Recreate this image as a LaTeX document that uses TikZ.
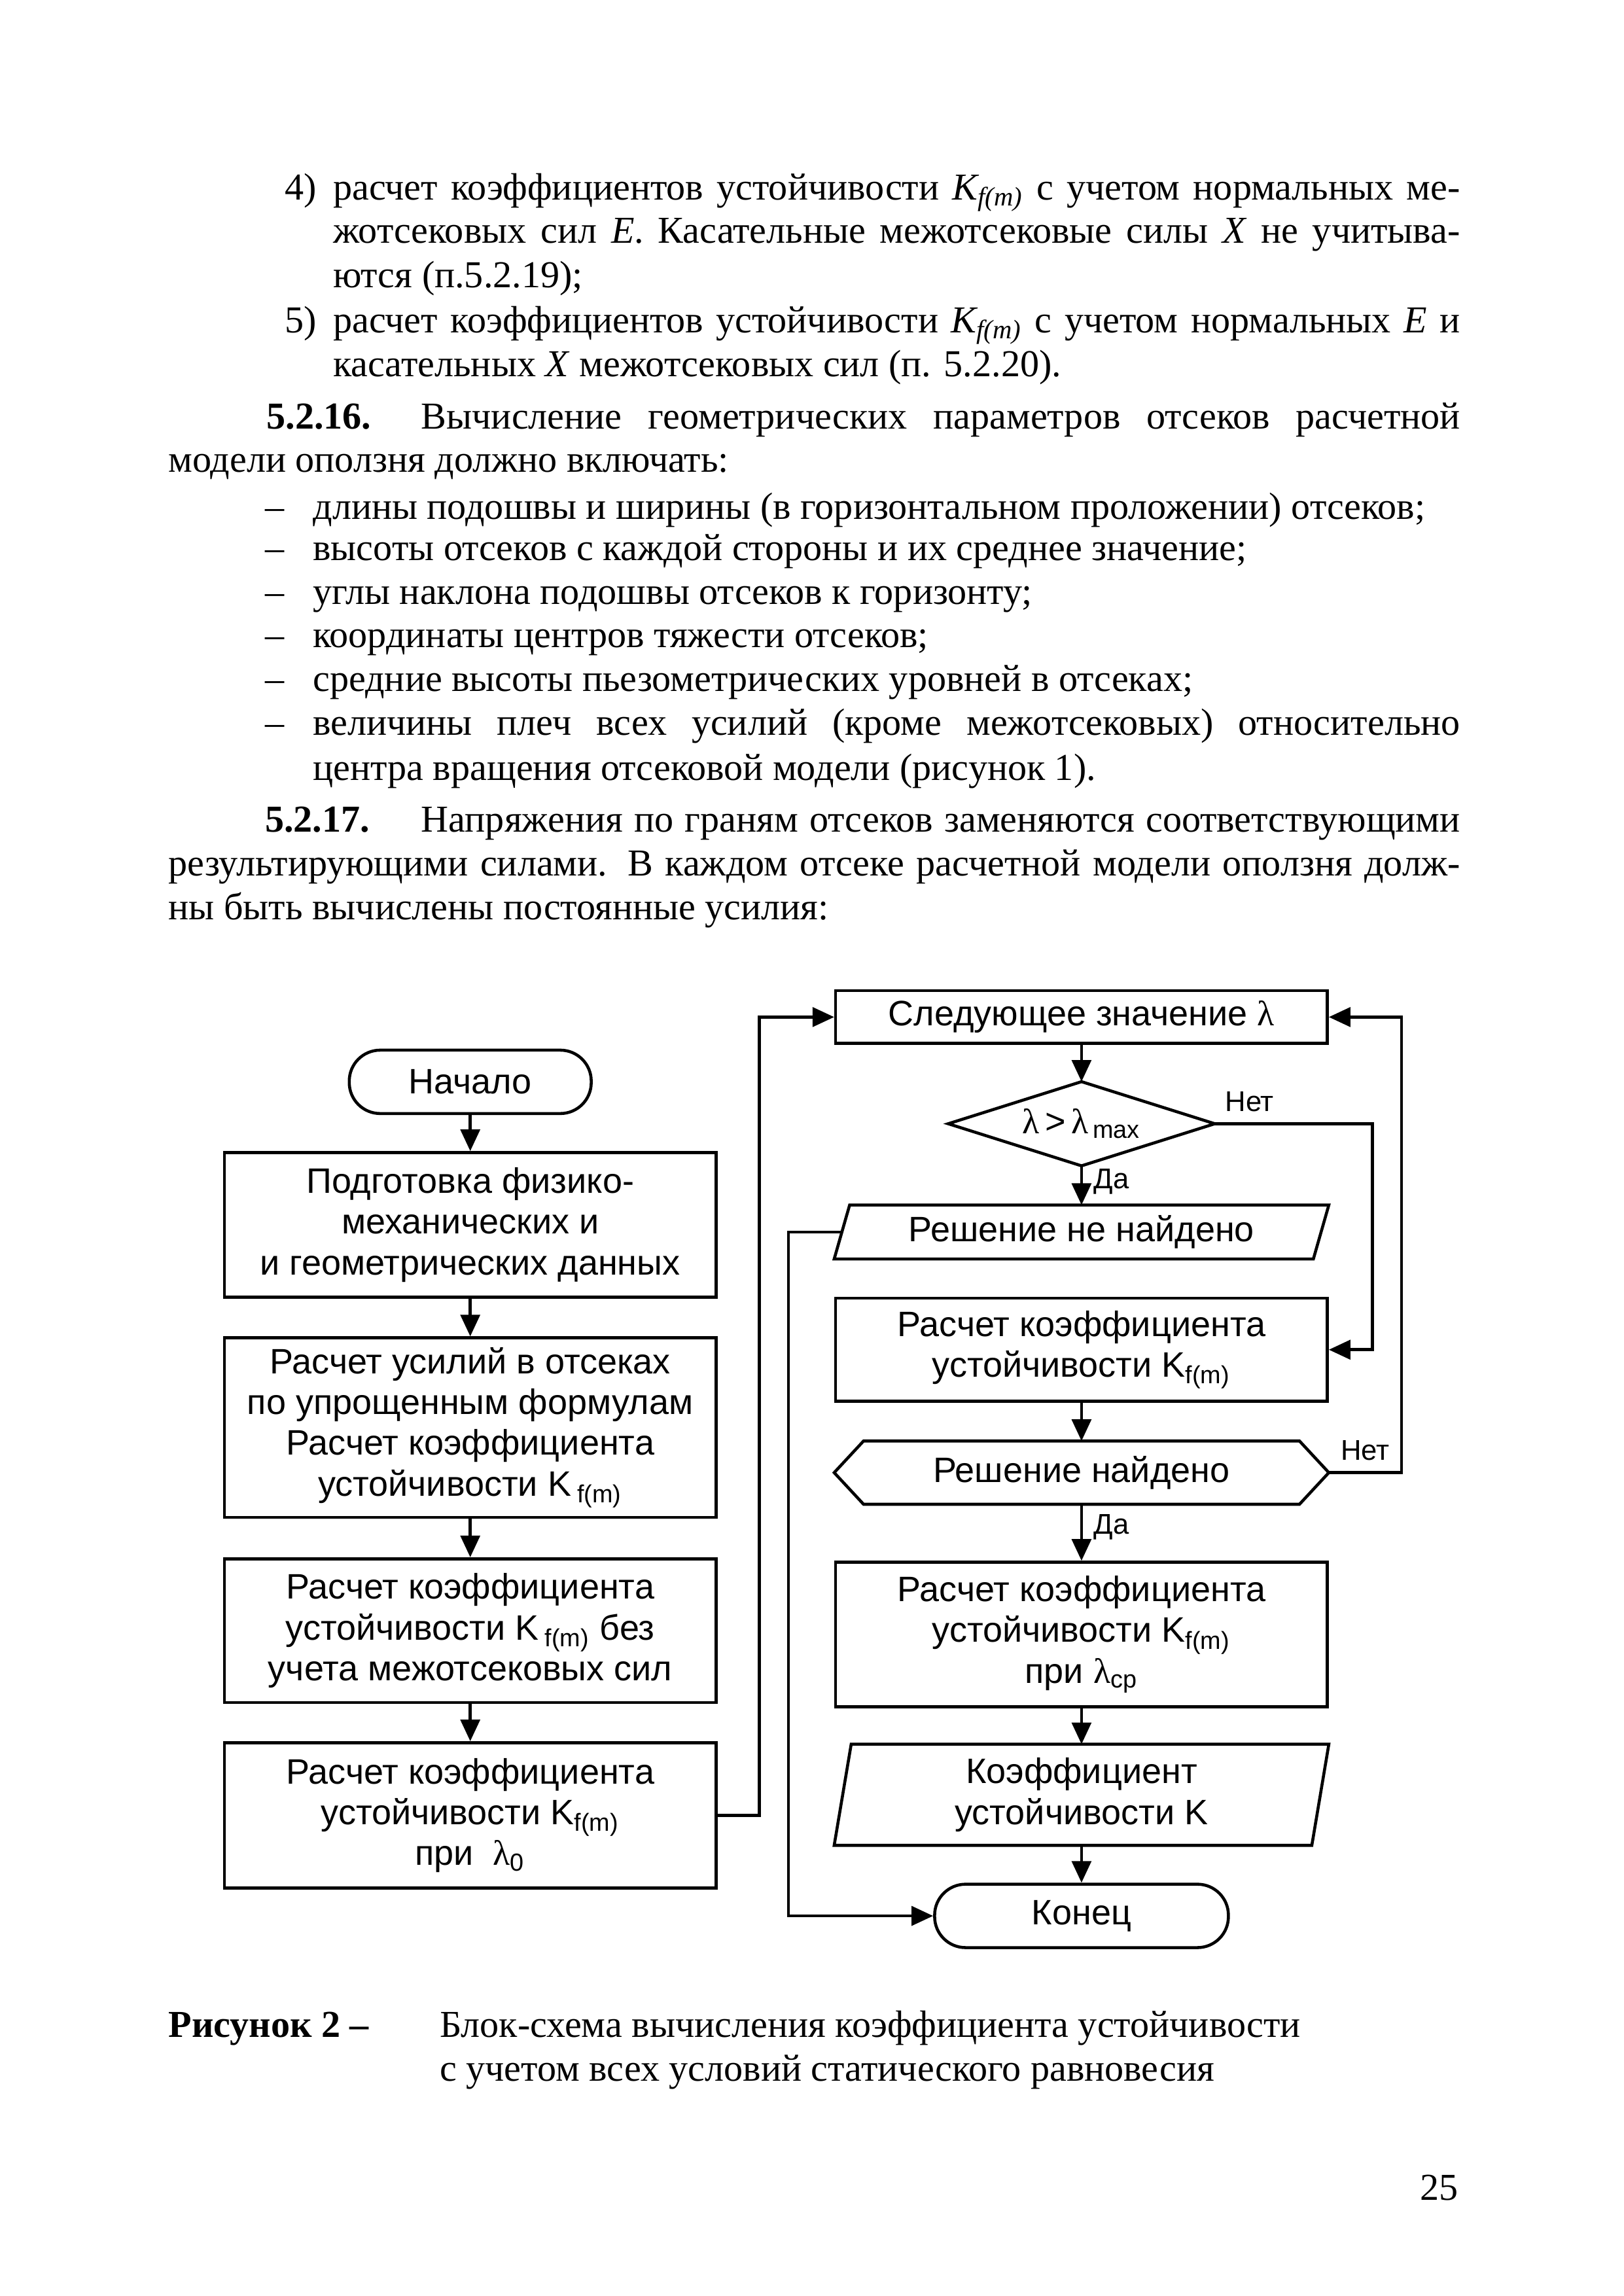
\documentclass[tikz,border=0pt]{standalone}
\usepackage{fontspec}
\setmainfont{Liberation Serif}
\newfontfamily\flowfont{Liberation Sans}
\newfontfamily\lamfont{Liberation Serif}
\newcommand{\lam}{{\lamfont λ}}
\usetikzlibrary{arrows.meta}

\begin{document}
\begin{tikzpicture}[line width=1.1pt,
  txt/.style={anchor=base west, inner sep=0pt, font=\fontsize{14}{16}\selectfont},
  box/.style={rectangle, draw, minimum width=6.36cm, align=center, inner sep=0pt, font=\flowfont\fontsize{13}{15}\selectfont},
  frameless/.style={rectangle, minimum width=6.36cm, align=center, inner sep=0pt, font=\flowfont\fontsize{13}{15}\selectfont},
  term/.style={rectangle, draw, rounded corners=0.4cm, minimum height=0.82cm, font=\flowfont\fontsize{13}{15}\selectfont},
  lbl/.style={font=\flowfont\fontsize{10.5}{12}\selectfont, inner sep=4pt},
  arr/.style={-{Triangle[length=2.8mm,width=2.5mm]}}]
\fill[white] (0,0) rectangle (21,-29.7);
\useasboundingbox (0,0) rectangle (21,-29.7);

\node[txt] (num4) at (3.67,-2.589) {4)};
\node[txt] (item4a) at (4.29,-2.589) {\makebox[14.58cm][s]{расчет коэффициентов устойчивости \textit{K\textsubscript{f(m)}} с учетом нормальных ме-}};
\node[txt] (item4b) at (4.29,-3.147) {\makebox[14.58cm][s]{жотсековых сил \textit{E}. Касательные межотсековые силы \textit{X} не учитыва-}};
\node[txt] (item4c) at (4.29,-3.724) {ются (п.5.2.19);};
\node[txt] (num5) at (3.67,-4.303) {5)};
\node[txt] (item5a) at (4.29,-4.303) {\makebox[14.58cm][s]{расчет коэффициентов устойчивости \textit{K\textsubscript{f(m)}} с учетом нормальных \textit{E} и}};
\node[txt] (item5b) at (4.29,-4.868) {касательных \textit{X} межотсековых сил (п. 5.2.20).};
\node[txt] (sec16) at (3.43,-5.544) {\bfseries 5.2.16.};
\node[txt] (sec16a) at (5.43,-5.544) {\makebox[13.44cm][s]{Вычисление геометрических параметров отсеков расчетной}};
\node[txt] (sec16b) at (2.16,-6.110) {модели оползня должно включать:};
\node[txt] (dash1) at (3.41,-6.717) {–};
\node[txt] (list1) at (4.03,-6.717) {длины подошвы и ширины (в горизонтальном проложении) отсеков;};
\node[txt] (dash2) at (3.41,-7.252) {–};
\node[txt] (list2) at (4.03,-7.252) {высоты отсеков с каждой стороны и их среднее значение;};
\node[txt] (dash3) at (3.41,-7.816) {–};
\node[txt] (list3) at (4.03,-7.816) {углы наклона подошвы отсеков к горизонту;};
\node[txt] (dash4) at (3.41,-8.375) {–};
\node[txt] (list4) at (4.03,-8.375) {координаты центров тяжести отсеков;};
\node[txt] (dash5) at (3.41,-8.945) {–};
\node[txt] (list5) at (4.03,-8.945) {средние высоты пьезометрических уровней в отсеках;};
\node[txt] (dash6) at (3.41,-9.510) {–};
\node[txt] (list6a) at (4.03,-9.510) {\makebox[14.84cm][s]{величины плеч всех усилий (кроме межотсековых) относительно}};
\node[txt] (list6b) at (4.03,-10.089) {центра вращения отсековой модели (рисунок 1).};
\node[txt] (sec17) at (3.41,-10.765) {\bfseries 5.2.17.};
\node[txt] (sec17a) at (5.43,-10.765) {\makebox[13.44cm][s]{Напряжения по граням отсеков заменяются соответствующими}};
\node[txt] (sec17b) at (2.16,-11.330) {\makebox[16.71cm][s]{результирующими силами. В каждом отсеке расчетной модели оползня долж-}};
\node[txt] (sec17c) at (2.16,-11.894) {ны быть вычислены постоянные усилия:};

\node[term, minimum width=3.13cm] (start) at (6.083,-13.994) {Начало};
\node[box, minimum height=1.87cm] (prepare) at (6.083,-15.844) {Подготовка физико-\\механических и\\и геометрических данных};
\node[box, minimum height=2.32cm] (simple) at (6.083,-18.466) {Расчет усилий в отсеках\\по упрощенным формулам\\Расчет коэффициента\\устойчивости K\,\textsubscript{f(m)}};
\node[box, minimum height=1.86cm] (noforces) at (6.083,-21.093) {Расчет коэффициента\\устойчивости K\,\textsubscript{f(m)} без\\учета межотсековых сил};
\node[box, minimum height=1.88cm] (lambdazero) at (6.083,-23.483) {Расчет коэффициента\\устойчивости K\textsubscript{f(m)}\\при \ \lam\textsubscript{0}};

\node[box, minimum height=0.68cm] (next) at (13.99,-13.156) {Следующее значение \lam};
\node[frameless, minimum width=3.41cm, minimum height=1.05cm] (check) at (13.99,-14.536) {\lam\,>\,\lam\textsubscript{\,max}};
\node[frameless, minimum height=0.66cm] (notfound) at (13.99,-15.936) {Решение не найдено};
\node[box, minimum height=1.33cm] (coef) at (13.99,-17.459) {Расчет коэффициента\\устойчивости K\textsubscript{f(m)}};
\node[frameless, minimum height=0.78cm] (found) at (13.99,-19.049) {Решение найдено};
\node[box, minimum height=1.87cm] (average) at (13.99,-21.143) {Расчет коэффициента\\устойчивости K\textsubscript{f(m)}\\при \lam\textsubscript{ср}};
\node[frameless, minimum height=1.27cm] (result) at (13.99,-23.216) {Коэффициент\\устойчивости K};
\node[term, minimum width=3.8cm] (finish) at (13.99,-24.783) {Конец};

\draw (check.north) -- (check.east) -- (check.south) -- (check.west) -- cycle;
\draw ([xshift=0.2cm]notfound.north west) -- (notfound.north east) -- ([xshift=-0.2cm]notfound.south east) -- (notfound.south west) -- cycle;
\draw (found.west) -- ([xshift=0.38cm]found.north west) -- ([xshift=-0.38cm]found.north east) -- (found.east) -- ([xshift=-0.38cm]found.south east) -- ([xshift=0.38cm]found.south west) -- cycle;
\draw ([xshift=0.22cm]result.north west) -- (result.north east) -- ([xshift=-0.22cm]result.south east) -- (result.south west) -- cycle;

\draw[arr] (start) -- (prepare);
\draw[arr] (prepare) -- (simple);
\draw[arr] (simple) -- (noforces);
\draw[arr] (noforces) -- (lambdazero);
\draw[arr] (lambdazero.east) -- ++(0.54,0) |- (next.west);
\draw[arr] (next) -- (check);
\draw[arr] (check) -- node[lbl, right, pos=0.4] {Да} (notfound);
\draw[arr] (check.east) -- node[lbl, above, pos=0.22] {Нет} ++(2.04,0) |- (coef.east);
\draw[arr] ([xshift=0.1cm]notfound.west) -- ++(-0.69,0) |- (finish.west);
\draw[arr] (coef) -- (found);
\draw[arr] (found.east) -- node[lbl, above] {Нет} ++(0.94,0) |- (next.east);
\draw[arr] (found) -- node[lbl, right, pos=0.4] {Да} (average);
\draw[arr] (average) -- (result);
\draw[arr] (result) -- (finish);

\node[txt] (figlabel) at (2.16,-26.356) {\bfseries Рисунок 2 –};
\node[txt] (figtitlea) at (5.67,-26.356) {Блок-схема вычисления коэффициента устойчивости};
\node[txt] (figtitleb) at (5.67,-26.919) {с учетом всех условий статического равновесия};
\node[txt, anchor=base east] (pagenum) at (18.88,-28.46) {25};
\end{tikzpicture}
\end{document}
